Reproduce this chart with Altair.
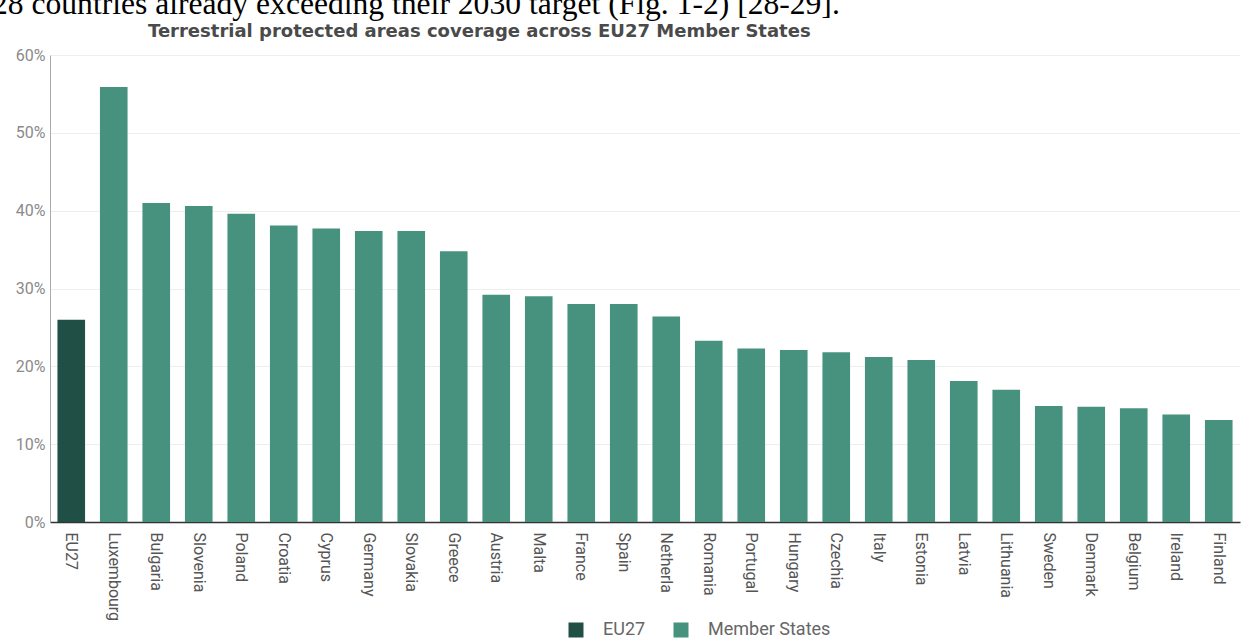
import altair as alt
import pandas as pd

countries = ["EU27", "Luxembourg", "Bulgaria", "Slovenia", "Poland", "Croatia", "Cyprus",
             "Germany", "Slovakia", "Greece", "Austria", "Malta", "France", "Spain",
             "Netherla", "Romania", "Portugal", "Hungary", "Czechia", "Italy", "Estonia",
             "Latvia", "Lithuania", "Sweden", "Denmark", "Belgium", "Ireland", "Finland"]
coverage = [26.0, 55.9, 41.0, 40.6, 39.6, 38.1, 37.7, 37.4, 37.4, 34.8, 29.2, 29.0, 28.0, 28.0,
            26.4, 23.3, 22.3, 22.1, 21.8, 21.2, 20.8, 18.1, 17.0, 14.9, 14.8, 14.6, 13.8, 13.1]
groups = ["EU27"] + ["Member States"] * (len(countries) - 1)
y_ticks = [0, 10, 20, 30, 40, 50, 60]
group_names = ["EU27", "Member States"]
group_colors = ["#204f45", "#47927f"]
doc_line = ["28 countries already exceeding their 2030 target (Fig. 1-2) [28-29]."]
chart_title = "Terrestrial protected areas coverage across EU27 Member States"

df = pd.DataFrame({"country": countries, "value": coverage, "group": groups})
doc_df = pd.DataFrame({"t": doc_line})

bars = alt.Chart(df).mark_bar().encode(
    x=alt.X("country:N", sort=countries, title=None,
            scale=alt.Scale(paddingInner=0.35, paddingOuter=0.175),
            axis=alt.Axis(labelAngle=90, labelAlign="left", labelBaseline="middle",
                          labelPadding=10, labelFontSize=16, labelColor="#555555",
                          labelFont="Roboto", ticks=False, domainColor="#333333",
                          domainWidth=1.5, grid=False)),
    y=alt.Y("value:Q", title=None,
            scale=alt.Scale(domain=[0, 60], nice=False),
            axis=alt.Axis(values=y_ticks, labelExpr="datum.value + '%'",
                          labelFontSize=16, labelColor="#8a8a8a", labelFont="Roboto",
                          ticks=False, labelPadding=5, domainColor="#aaaaaa",
                          gridColor="#eeeeee")),
    color=alt.Color("group:N", scale=alt.Scale(domain=group_names, range=group_colors),
                    legend=alt.Legend(title=None, orient="none", legendX=517, legendY=566,
                                      direction="horizontal", symbolType="square",
                                      symbolSize=225, symbolStrokeWidth=0,
                                      labelFontSize=18, labelColor="#666666",
                                      labelFont="Roboto", labelOffset=18,
                                      columnPadding=26)),
)

doc = alt.Chart(doc_df).mark_text(
    font="Liberation Serif", fontSize=31.6, align="left", baseline="alphabetic", color="#000000"
).encode(text="t:N", x=alt.value(-58), y=alt.value(-41))

chart = alt.layer(bars, doc).properties(
    width=1190, height=467,
    title=alt.TitleParams(chart_title, anchor="start", frame="group", dx=98, dy=70, offset=0,
                          baseline="bottom",
                          font="DejaVu Sans", fontSize=18, fontWeight="bold", color="#4a4a4a"),
    autosize=alt.AutoSizeParams(type="none"),
    padding={"left": 50, "top": 55, "right": 5, "bottom": 117},
).configure_view(stroke=None)

chart.save("out.html", embed_options={"renderer": "svg", "actions": False})
